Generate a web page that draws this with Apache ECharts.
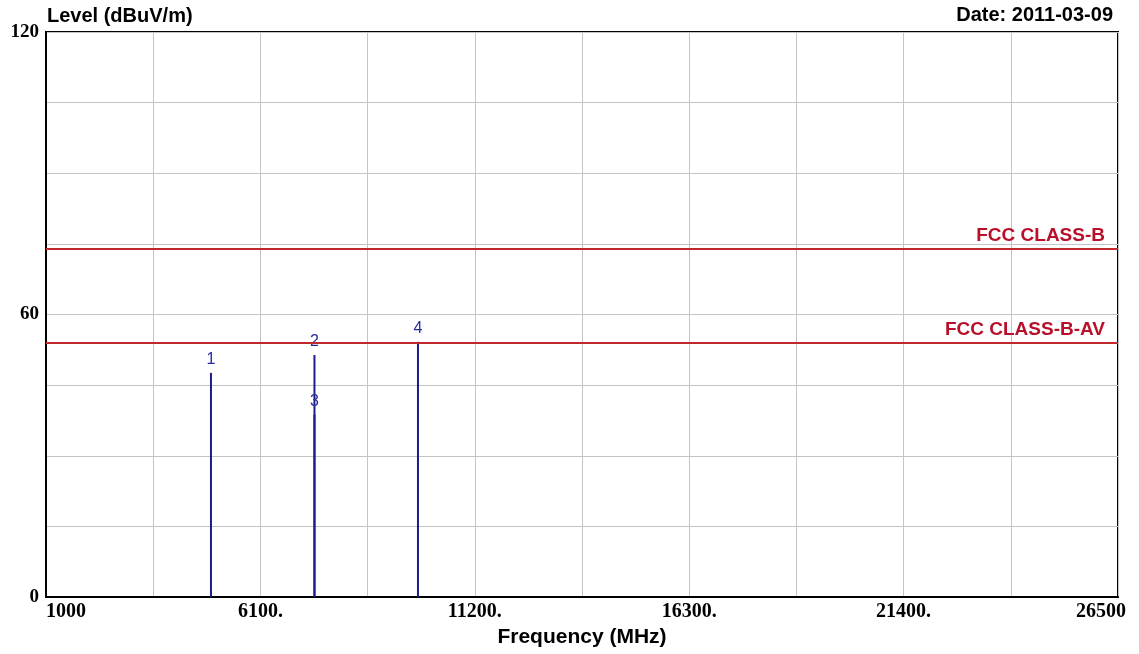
<!DOCTYPE html>
<html>
<head>
<meta charset="utf-8">
<script src="https://cdn.jsdelivr.net/npm/echarts@6/dist/echarts.min.js"></script>
<style>
html,body{margin:0;padding:0;background:#fff;}
#chart{width:1139px;height:654px;}
</style>
</head>
<body>
<div id="chart"></div>
<script>
// Data
var markerLabels = ['1', '2', '3', '4'];
var markerFreqs = [4924, 7386, 7386, 9848];     // MHz
var markerLevels = [47.6, 51.4, 38.7, 54.2];    // dBuV/m
var limitNames = ['FCC CLASS-B', 'FCC CLASS-B-AV'];
var limitLevels = [74, 54];
var xTickValues = [1000, 6100, 11200, 16300, 21400, 26500];
var xTickLabels = ['1000', '6100.', '11200.', '16300.', '21400.', '26500'];
var yTickValues = [0, 60, 120];
var yTickLabels = ['0', '60', '120'];

var chart = echarts.init(document.getElementById('chart'), null, {renderer: 'canvas'});

var markerData = markerFreqs.map(function (f, i) { return [f, markerLevels[i], markerLabels[i]]; });

var SANS = 'Liberation Sans';
var SERIF = 'Liberation Serif';

var option = {
  backgroundColor: '#fff',
  animation: false,
  title: [
    {text: 'Level (dBuV/m)', left: 42, top: 1,
     textStyle: {fontFamily: SANS, fontWeight: 'bold', fontSize: 20, color: '#000'}},
    {text: 'Date: 2011-03-09', right: 21, top: 0,
     textStyle: {fontFamily: SANS, fontWeight: 'bold', fontSize: 20, color: '#000'}}
  ],
  grid: {left: 46, right: 21, top: 32, bottom: 57, show: true, borderColor: '#000', borderWidth: 2, backgroundColor: '#fff'},
  xAxis: {
    type: 'value', min: 1000, max: 26500, interval: 2550,
    name: 'Frequency (MHz)', nameLocation: 'middle', nameGap: 28,
    nameTextStyle: {fontFamily: SANS, fontWeight: 'bold', fontSize: 21, color: '#000'},
    axisLine: {show: true, lineStyle: {color: '#000', width: 2}},
    axisTick: {show: false},
    splitLine: {show: true, lineStyle: {color: '#c4c4c4', width: 1}},
    axisLabel: {
      margin: 5, color: '#000', fontFamily: SERIF, fontWeight: 'bold', fontSize: 20,
      alignMinLabel: 'left', alignMaxLabel: 'center',
      formatter: function (v) {
        var i = xTickValues.indexOf(Math.round(v));
        if (i < 0) return '';
        return i === xTickValues.length - 1 ? '{last|' + xTickLabels[i] + '}' : xTickLabels[i];
      },
      rich: {
        last: {padding: [0, 34, 0, 0], color: '#000', fontFamily: SERIF, fontWeight: 'bold', fontSize: 20}
      }
    }
  },
  yAxis: {
    type: 'value', min: 0, max: 120, interval: 15,
    axisLine: {show: true, lineStyle: {color: '#000', width: 2}},
    axisTick: {show: false},
    splitLine: {show: true, lineStyle: {color: '#c4c4c4', width: 1}},
    axisLabel: {
      margin: 7, color: '#000', fontFamily: SERIF, fontWeight: 'bold', fontSize: 19,
      formatter: function (v) {
        var i = yTickValues.indexOf(Math.round(v));
        return i >= 0 ? yTickLabels[i] : '';
      }
    }
  },
  series: [
    {
      type: 'line', data: [], silent: true,
      markLine: {
        symbol: 'none', silent: true,
        lineStyle: {color: '#c0282c', width: 2, type: 'solid'},
        label: {
          show: true, position: 'insideEndTop', distance: [13, 3],
          formatter: '{b}', color: '#b8102a',
          fontFamily: SANS, fontWeight: 'bold', fontSize: 19
        },
        data: limitLevels.map(function (v, i) { return {name: limitNames[i], yAxis: v}; })
      }
    },
    {
      type: 'custom', data: markerData, silent: true, clip: true,
      renderItem: function (params, api) {
        var f = api.value(0), lv = api.value(1);
        var p0 = api.coord([f, 0]);
        var p1 = api.coord([f, lv]);
        return {
          type: 'group',
          children: [
            {type: 'line', shape: {x1: p0[0], y1: p0[1], x2: p1[0], y2: p1[1]},
             style: {stroke: '#1c1c8c', lineWidth: 2}},
            {type: 'text', style: {
              text: markerLabels[params.dataIndex], x: p1[0], y: p1[1] - 5,
              align: 'center', verticalAlign: 'bottom',
              fill: '#2a2aa0', font: '16px "Liberation Sans"'}}
          ]
        };
      }
    }
  ]
};
chart.setOption(option);
</script>
</body>
</html>
